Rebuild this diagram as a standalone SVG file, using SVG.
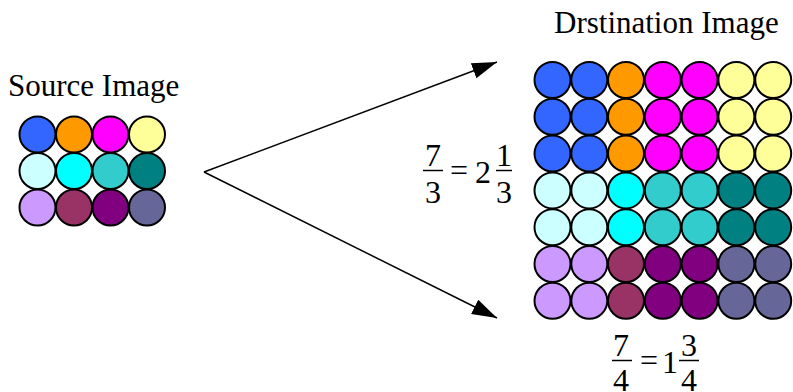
<svg xmlns="http://www.w3.org/2000/svg" width="793" height="392" viewBox="0 0 793 392">
<style>
text{font-family:'Liberation Serif','Times New Roman',serif;fill:#000}
.lbl{font-size:31px}
.f{font-size:32px;text-anchor:middle}
circle{stroke:#000;stroke-width:2}
.bar{stroke:#000;stroke-width:1.5}
.c0{fill:#3366ff}.c1{fill:#ff9900}.c2{fill:#ff00ff}.c3{fill:#ffff99}
.c4{fill:#ccffff}.c5{fill:#00ffff}.c6{fill:#33cccc}.c7{fill:#008080}
.c8{fill:#cc99ff}.c9{fill:#993366}.c10{fill:#800080}.c11{fill:#666699}
</style>
<defs>
<marker id="ah" markerUnits="userSpaceOnUse" markerWidth="26" markerHeight="18" refX="25" refY="8" orient="auto">
<path d="M0,0 L25,8 L0,16 z" fill="#000"/>
</marker>
</defs>
<rect width="793" height="392" fill="#fff"/>
<g id="source">
<text class="lbl" x="8" y="96">Source Image</text>
<circle class="c0" cx="37.5" cy="134.5" r="18"/><circle class="c1" cx="74" cy="134.5" r="18"/><circle class="c2" cx="110.5" cy="134.5" r="18"/><circle class="c3" cx="147" cy="134.5" r="18"/>
<circle class="c4" cx="37.5" cy="171" r="18"/><circle class="c5" cx="74" cy="171" r="18"/><circle class="c6" cx="110.5" cy="171" r="18"/><circle class="c7" cx="147" cy="171" r="18"/>
<circle class="c8" cx="37.5" cy="207.5" r="18"/><circle class="c9" cx="74" cy="207.5" r="18"/><circle class="c10" cx="110.5" cy="207.5" r="18"/><circle class="c11" cx="147" cy="207.5" r="18"/>
</g>
<g id="connectors">
<line x1="204" y1="172" x2="497" y2="62" stroke="#000" stroke-width="1.5" marker-end="url(#ah)"/>
<line x1="204" y1="172" x2="497" y2="318" stroke="#000" stroke-width="1.5" marker-end="url(#ah)"/>
</g>
<g id="ratio-rows">
<text class="f" x="433" y="166">7</text>
<line class="bar" x1="423" y1="170.5" x2="443" y2="170.5"/>
<text class="f" x="433" y="203">3</text>
<text class="f" x="459" y="181">=</text>
<text class="f" x="483" y="183">2</text>
<text class="f" x="504" y="166">1</text>
<line class="bar" x1="496" y1="170.5" x2="512" y2="170.5"/>
<text class="f" x="504" y="203">3</text>
</g>
<g id="ratio-cols">
<text class="f" x="621" y="356">7</text>
<line class="bar" x1="612" y1="360.5" x2="632" y2="360.5"/>
<text class="f" x="621" y="391">4</text>
<text class="f" x="649" y="371">=</text>
<text class="f" x="670" y="373">1</text>
<text class="f" x="689" y="356">3</text>
<line class="bar" x1="679" y1="360.5" x2="699" y2="360.5"/>
<text class="f" x="689" y="391">4</text>
</g>
<g id="destination">
<text class="lbl" x="554" y="33">Drstination Image</text>
<circle class="c0" cx="552.5" cy="80" r="18"/><circle class="c0" cx="589.3" cy="80" r="18"/><circle class="c1" cx="626" cy="80" r="18"/><circle class="c2" cx="662.8" cy="80" r="18"/><circle class="c2" cx="699.6" cy="80" r="18"/><circle class="c3" cx="736.4" cy="80" r="18"/><circle class="c3" cx="773.2" cy="80" r="18"/>
<circle class="c0" cx="552.5" cy="116.8" r="18"/><circle class="c0" cx="589.3" cy="116.8" r="18"/><circle class="c1" cx="626" cy="116.8" r="18"/><circle class="c2" cx="662.8" cy="116.8" r="18"/><circle class="c2" cx="699.6" cy="116.8" r="18"/><circle class="c3" cx="736.4" cy="116.8" r="18"/><circle class="c3" cx="773.2" cy="116.8" r="18"/>
<circle class="c0" cx="552.5" cy="153.6" r="18"/><circle class="c0" cx="589.3" cy="153.6" r="18"/><circle class="c1" cx="626" cy="153.6" r="18"/><circle class="c2" cx="662.8" cy="153.6" r="18"/><circle class="c2" cx="699.6" cy="153.6" r="18"/><circle class="c3" cx="736.4" cy="153.6" r="18"/><circle class="c3" cx="773.2" cy="153.6" r="18"/>
<circle class="c4" cx="552.5" cy="190.4" r="18"/><circle class="c4" cx="589.3" cy="190.4" r="18"/><circle class="c5" cx="626" cy="190.4" r="18"/><circle class="c6" cx="662.8" cy="190.4" r="18"/><circle class="c6" cx="699.6" cy="190.4" r="18"/><circle class="c7" cx="736.4" cy="190.4" r="18"/><circle class="c7" cx="773.2" cy="190.4" r="18"/>
<circle class="c4" cx="552.5" cy="227.2" r="18"/><circle class="c4" cx="589.3" cy="227.2" r="18"/><circle class="c5" cx="626" cy="227.2" r="18"/><circle class="c6" cx="662.8" cy="227.2" r="18"/><circle class="c6" cx="699.6" cy="227.2" r="18"/><circle class="c7" cx="736.4" cy="227.2" r="18"/><circle class="c7" cx="773.2" cy="227.2" r="18"/>
<circle class="c8" cx="552.5" cy="264" r="18"/><circle class="c8" cx="589.3" cy="264" r="18"/><circle class="c9" cx="626" cy="264" r="18"/><circle class="c10" cx="662.8" cy="264" r="18"/><circle class="c10" cx="699.6" cy="264" r="18"/><circle class="c11" cx="736.4" cy="264" r="18"/><circle class="c11" cx="773.2" cy="264" r="18"/>
<circle class="c8" cx="552.5" cy="300.8" r="18"/><circle class="c8" cx="589.3" cy="300.8" r="18"/><circle class="c9" cx="626" cy="300.8" r="18"/><circle class="c10" cx="662.8" cy="300.8" r="18"/><circle class="c10" cx="699.6" cy="300.8" r="18"/><circle class="c11" cx="736.4" cy="300.8" r="18"/><circle class="c11" cx="773.2" cy="300.8" r="18"/>
</g>
</svg>
